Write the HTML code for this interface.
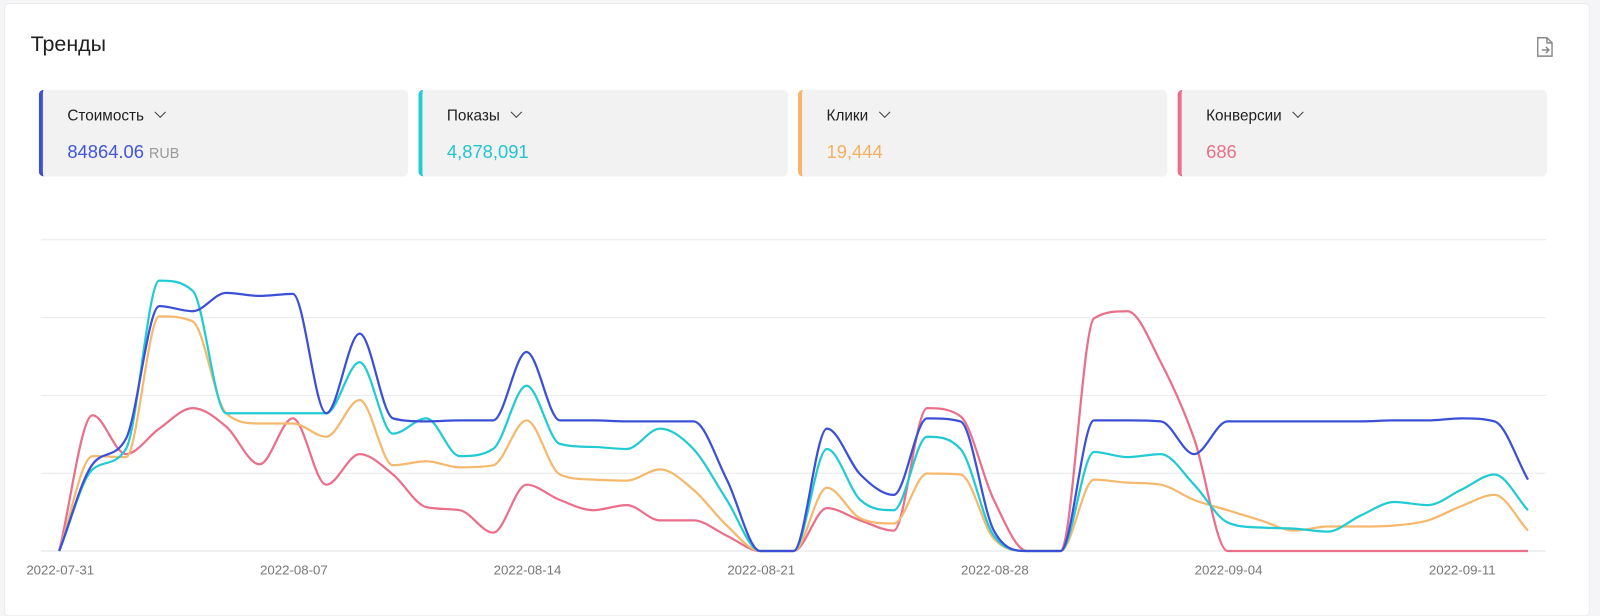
<!DOCTYPE html>
<html><head><meta charset="utf-8">
<style>
body{margin:0;width:1600px;height:602px;background:#f5f5f7;font-family:"Liberation Sans",sans-serif;overflow:hidden;position:relative}
#wrap{position:absolute;left:0;top:0;width:1568px;height:590px;transform:scale(1.0204);transform-origin:0 0}
.panel{position:absolute;left:4px;top:3px;width:1552px;height:599px;background:#fff;border:1px solid #ececec;border-radius:4px}
.title{position:absolute;left:30px;top:32px;font-size:21px;color:#1f1f1f}
.card{position:absolute;top:88px;height:85px;width:362px;background:#f2f2f2;border-radius:5px;box-sizing:border-box;border-left:4px solid}
.card .lbl{position:absolute;left:24px;top:17px;font-size:15px;color:#1f1f1f}
.card .val{position:absolute;left:24px;top:51px;font-size:18px}
.card .unit{font-size:14px;color:#999}
.chev{display:inline-block;width:7px;height:7px;border-right:1.3px solid #444;border-bottom:1.3px solid #444;transform:rotate(45deg);margin-left:12px;position:relative;top:-4px}
</style></head><body>
<div id="wrap">
<div class="panel"></div>
<div class="title">Тренды</div>
<svg style="position:absolute;left:1505px;top:36px" width="18" height="20" viewBox="0 0 18 20"><path d="M2 1h9l5 5v13H2z" fill="none" stroke="#888" stroke-width="1.4"/><path d="M11 1v5h5M6 13h7M10 10l3 3-3 3" fill="none" stroke="#888" stroke-width="1.4"/></svg>
<div class="card" style="left:38px;border-color:#3b50d6"><div class="lbl">Стоимость<span class="chev"></span></div><div class="val" style="color:#4157d8">84864.06 <span class="unit">RUB</span></div></div>
<div class="card" style="left:410px;border-color:#22cbd3"><div class="lbl">Показы<span class="chev"></span></div><div class="val" style="color:#22c5cf">4,878,091</div></div>
<div class="card" style="left:782px;border-color:#f5b56a"><div class="lbl">Клики<span class="chev"></span></div><div class="val" style="color:#f2b161">19,444</div></div>
<div class="card" style="left:1154px;border-color:#ea6f8b"><div class="lbl">Конверсии<span class="chev"></span></div><div class="val" style="color:#e96f8a">686</div></div>
<svg id="chart" style="position:absolute;left:0;top:0" width="1568" height="590"></svg>
</div>
<script>
const xLabels=["2022-07-31","2022-08-07","2022-08-14","2022-08-21","2022-08-28","2022-09-04","2022-09-11"];
const costY=[540,455,430,300,305,287,290,288,405,327,410,413,412,412,345,412,412,413,413,413,470,540,540,420,465,485,410,413,520,540,540,412,412,413,445,413,413,413,413,413,412,412,410,413,470];
const imprY=[540,460,440,275,285,405,405,405,405,355,425,410,447,440,378,435,438,440,420,440,490,540,540,440,490,500,428,440,525,540,540,443,448,445,475,512,517,518,521,505,492,495,480,465,500];
const clickY=[540,447,448,310,315,405,415,415,428,392,456,452,458,456,412,465,470,471,460,480,515,540,540,478,508,513,464,465,528,540,540,470,473,475,490,500,510,520,516,516,515,510,496,485,520];
const convY=[540,407,445,420,400,418,455,410,475,445,465,497,500,522,475,490,500,495,510,510,525,540,540,498,510,520,400,408,490,540,540,312,305,355,430,540,540,540,540,540,540,540,540,540,540];
const gridLines=[0,1,2,3,4];
const NS="http://www.w3.org/2000/svg",svg=document.getElementById('chart');
const X0=58,DX=(1432-58)/42;
const xs=d=>X0+DX*d;
const ys=g=>540-g*76.25;
function mk(t,a){const e=document.createElementNS(NS,t);for(const k in a)e.setAttribute(k,a[k]);svg.appendChild(e);return e;}
gridLines.forEach(g=>{const l=mk('line',{x1:40,x2:1515,y1:ys(g),y2:ys(g),stroke:g?'#e6e9ee':'#dde1e6','stroke-width':1});

});
xLabels.forEach((s,i)=>{const t=mk('text',{x:xs(i*7)+1,y:563,'text-anchor':'middle','font-size':13,fill:'#777','font-family':'Liberation Sans, sans-serif'});t.textContent=s;

});
function monotone(px,py){const n=px.length,d=[],m=new Array(n);
for(let i=0;i<n-1;i++)d.push((py[i+1]-py[i])/(px[i+1]-px[i]));
m[0]=d[0];m[n-1]=d[n-2];
for(let i=1;i<n-1;i++)m[i]=(d[i-1]*d[i]<=0)?0:(d[i-1]+d[i])/2;
for(let i=0;i<n-1;i++){if(d[i]===0){m[i]=0;m[i+1]=0;continue;}const a=m[i]/d[i],b=m[i+1]/d[i],s=a*a+b*b;if(s>9){const t=3/Math.sqrt(s);m[i]=t*a*d[i];m[i+1]=t*b*d[i];}}
let p='M'+px[0]+','+py[0];
for(let i=0;i<n-1;i++){const h=(px[i+1]-px[i])/3;p+=`C${px[i]+h},${py[i]+m[i]*h} ${px[i+1]-h},${py[i+1]-m[i+1]*h} ${px[i+1]},${py[i+1]}`;}
return p;}
[[convY,'#ea6f8b','series-conversions'],[clickY,'#f5b96e','series-clicks'],[imprY,'#22cbd3','series-impressions'],[costY,'#3b50d6','series-cost']].forEach(([arr,c,n])=>{
const px=arr.map((v,i)=>xs(i));
const p=mk('path',{d:monotone(px,arr),fill:'none',stroke:c,'stroke-width':2.2,'stroke-linejoin':'round'});

});
</script>
</body></html>
